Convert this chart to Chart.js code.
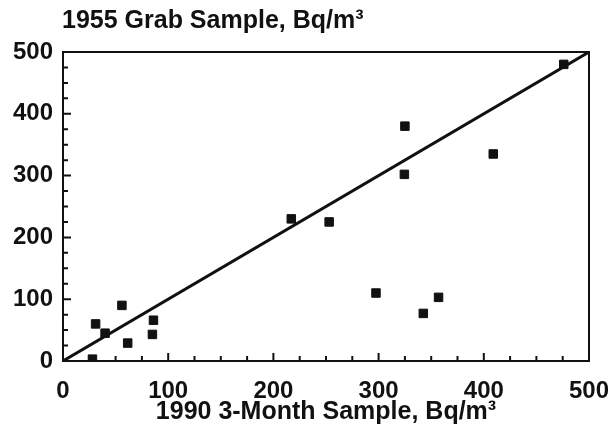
<!DOCTYPE html>
<html>
<head>
<meta charset="utf-8">
<script src="https://cdn.jsdelivr.net/npm/chart.js@4.4.1/dist/chart.umd.min.js"></script>
<style>
body { margin: 0; background: #fff; }
</style>
</head>
<body>
<canvas id="chart" width="614" height="435"></canvas>
<script>
// values
var sample1990 = [28, 31, 40, 56, 61.5, 86, 85, 217, 253, 297.5, 325, 324.5, 342.5, 357, 409, 476];
var sample1955 = [3, 60, 45, 90, 29, 66, 43, 230, 225, 110, 380, 302, 77, 103, 335, 480];
var equalLine = [0, 500];
var axisTicks = [0, 100, 200, 300, 400, 500];

var yTitle = '1955 Grab Sample, Bq/m\u00b3';
var xTitle = '1990 3-Month Sample, Bq/m\u00b3';
var fontFamily = '"Liberation Sans", Arial, sans-serif';

function toPoints(xs, ys) {
    var out = [];
    for (var i = 0; i < xs.length; i++) {
        out.push({ x: xs[i], y: ys[i] });
    }
    return out;
}

function tickLabel(v) {
    return axisTicks.indexOf(v) >= 0 ? String(v) : '';
}

// frame, inward tick marks and the title above the plot
var framePlugin = {
    id: 'frame',
    afterDraw: function (chart) {
        var ctx = chart.ctx;
        var a = chart.chartArea;
        var xs = chart.scales.x, ys = chart.scales.y;
        ctx.save();
        ctx.strokeStyle = '#111';
        ctx.lineWidth = 2;
        ctx.strokeRect(a.left, a.top, a.right - a.left, a.bottom - a.top);
        ctx.beginPath();
        for (var v = 25; v < 500; v += 25) {
            var len = v % 100 === 0 ? 8 : 5;
            var px = xs.getPixelForValue(v);
            ctx.moveTo(px, a.bottom);
            ctx.lineTo(px, a.bottom - len);
            var py = ys.getPixelForValue(v);
            ctx.moveTo(a.left, py);
            ctx.lineTo(a.left + len, py);
        }
        ctx.stroke();
        ctx.fillStyle = '#111';
        ctx.font = 'bold 25px ' + fontFamily;
        ctx.textBaseline = 'alphabetic';
        ctx.textAlign = 'left';
        ctx.fillText(yTitle, a.left - 1, 28);
        ctx.restore();
    }
};

new Chart(document.getElementById('chart').getContext('2d'), {
    type: 'scatter',
    data: {
        datasets: [{
            data: toPoints(sample1990, sample1955),
            pointStyle: 'rect',
            pointRadius: 6,
            backgroundColor: '#111',
            borderColor: '#111',
            borderWidth: 1,
            order: 1
        }, {
            type: 'line',
            data: toPoints(equalLine, equalLine),
            borderColor: '#111',
            borderWidth: 3,
            pointRadius: 0,
            fill: false,
            order: 2
        }]
    },
    options: {
        responsive: false,
        animation: false,
        layout: { padding: { top: 52, right: 25, bottom: 0, left: 0 } },
        plugins: {
            legend: { display: false },
            tooltip: { enabled: false }
        },
        scales: {
            x: {
                type: 'linear',
                min: 0,
                max: 500,
                grid: { display: false, drawTicks: false },
                border: { display: false },
                ticks: {
                    stepSize: 25,
                    autoSkip: false,
                    maxRotation: 0,
                    padding: 16,
                    color: '#111',
                    font: { family: fontFamily, size: 24, weight: 'bold' },
                    callback: tickLabel
                },
                title: {
                    display: true,
                    text: xTitle,
                    color: '#111',
                    font: { family: fontFamily, size: 25, weight: 'bold' },
                    padding: { top: 0, bottom: 8 }
                },
                afterFit: function (scale) {
                    scale.height = 74;
                    scale.paddingLeft = 0;
                    scale.paddingRight = 0;
                }
            },
            y: {
                type: 'linear',
                min: 0,
                max: 500,
                grid: { display: false, drawTicks: false },
                border: { display: false },
                ticks: {
                    stepSize: 25,
                    autoSkip: false,
                    padding: 10,
                    color: '#111',
                    font: { family: fontFamily, size: 24, weight: 'bold' },
                    callback: tickLabel
                },
                afterFit: function (scale) {
                    scale.width = 63;
                    scale.paddingTop = 0;
                    scale.paddingBottom = 0;
                }
            }
        }
    },
    plugins: [framePlugin]
});
</script>
</body>
</html>
